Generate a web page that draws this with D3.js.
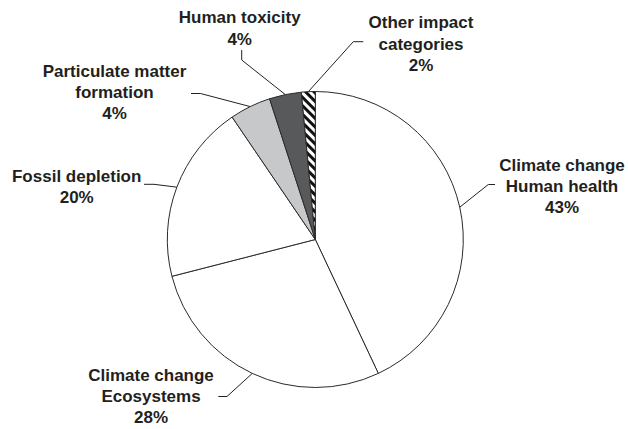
<!DOCTYPE html>
<html>
<head>
<meta charset="utf-8">
<script src="https://cdn.jsdelivr.net/npm/d3@7"></script>
<style>
  html, body { margin: 0; padding: 0; background: #fff; }
  svg { display: block; }
  text { font-family: "Liberation Sans", Arial, sans-serif; font-weight: bold; font-size: 17px; fill: #231f20; }
</style>
</head>
<body>
<svg id="chart" width="628" height="429"></svg>
<script>
// ---- data ----
const categories = ["Climate change Human health", "Climate change Ecosystems", "Fossil depletion",
                    "Particulate matter formation", "Human toxicity", "Other impact categories"];
const values = [43, 28, 19.5, 4.5, 3.5, 1.5];
const labelLines = [
  ["Climate change", "Human health", "43%"],
  ["Climate change", "Ecosystems", "28%"],
  ["Fossil depletion", "20%"],
  ["Particulate matter", "formation", "4%"],
  ["Human toxicity", "4%"],
  ["Other impact", "categories", "2%"]
];

// ---- layout (positions / styles) ----
const W = 628, H = 429;
const cx = 315.3, cy = 239.5, R = 148;
const fills = ["#ffffff", "#ffffff", "#ffffff", "#c7c8ca", "#58595b", "url(#hatch)"];
// label text centre x, first baseline y
const labelPos = [
  [562, 170.7], [151, 380.7], [76.7, 181.7], [114.5, 76.7], [239.7, 23.3], [421, 28.3]
];
const lineH = 21.2;
// leader elbow and end points
const leaders = [
  [[488.3, 184.5], [495, 184.5]],
  [[227, 396.5], [218.3, 396.5]],
  [[154, 184.3], [144, 184.3]],
  [[200.5, 93.5], [191, 93.5]],
  [[241.7, 60], [241.7, 50]],
  [[353.3, 41.7], [363.3, 41.7]]
];

const svg = d3.select("#chart");
const defs = svg.append("defs");
const pat = defs.append("pattern")
  .attr("id", "hatch").attr("patternUnits", "userSpaceOnUse")
  .attr("width", 6).attr("height", 6)
  .attr("patternTransform", "rotate(-45)");
pat.append("rect").attr("width", 6).attr("height", 6).attr("fill", "#fff");
pat.append("rect").attr("width", 3).attr("height", 6).attr("fill", "#111");

const pie = d3.pie().sort(null).value(d => d);
const arcs = pie(values);
const arc = d3.arc().innerRadius(0).outerRadius(R);

const g = svg.append("g").attr("transform", `translate(${cx},${cy})`);
g.selectAll("path.slice").data(arcs).enter().append("path")
  .attr("class", "slice")
  .attr("d", arc)
  .attr("fill", (d, i) => fills[i])
  .attr("stroke", "#2b2b2b")
  .attr("stroke-width", 1);

// leader lines: start on the rim at slice mid-angle
const line = d3.line();
arcs.forEach((d, i) => {
  const a = (d.startAngle + d.endAngle) / 2;
  const p0 = [cx + R * Math.sin(a), cy - R * Math.cos(a)];
  svg.append("path")
    .attr("d", line([p0, leaders[i][0], leaders[i][1]]))
    .attr("fill", "none")
    .attr("stroke", "#222")
    .attr("stroke-width", 1);
});

// labels
labelLines.forEach((lines, i) => {
  const t = svg.append("text").attr("text-anchor", "middle");
  lines.forEach((s, j) => {
    t.append("tspan").attr("x", labelPos[i][0]).attr("y", labelPos[i][1] + j * lineH).text(s);
  });
});
</script>
</body>
</html>
